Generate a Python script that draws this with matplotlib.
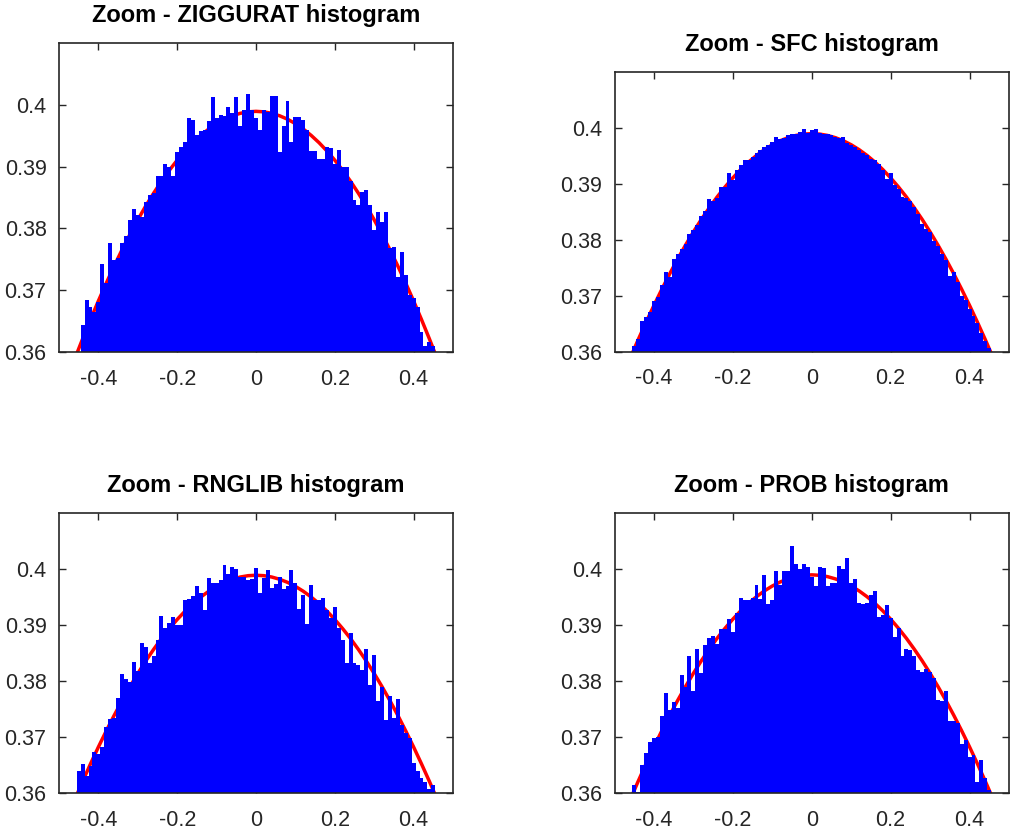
import numpy as np
import matplotlib
matplotlib.use("Agg")
import matplotlib.pyplot as plt

plt.rcParams['font.family'] = ['Liberation Sans', 'DejaVu Sans']
plt.rcParams['axes.unicode_minus'] = False

# bin centres (x = k/100, k = -45..45)
bin_centers = np.arange(-45, 46) / 100.0

ziggurat = [0.3598, 0.3644, 0.3684, 0.3673, 0.3665, 0.3681, 0.3742, 0.3711, 0.3776, 0.3749,
            0.3752, 0.3776, 0.3788, 0.3814, 0.3832, 0.3822, 0.3819, 0.3843, 0.3854, 0.3857,
            0.3884, 0.3884, 0.3904, 0.3900, 0.3884, 0.3924, 0.3932, 0.3939, 0.3978, 0.3975,
            0.3951, 0.3957, 0.3959, 0.3973, 0.4012, 0.3979, 0.3984, 0.3982, 0.3997, 0.3986,
            0.4012, 0.3965, 0.3992, 0.4017, 0.3992, 0.3978, 0.3960, 0.3992, 0.3989, 0.4014,
            0.4014, 0.3924, 0.3965, 0.4006, 0.3940, 0.3980, 0.3980, 0.3975, 0.3959, 0.3926,
            0.3926, 0.3913, 0.3913, 0.3932, 0.3930, 0.3905, 0.3927, 0.3900, 0.3899, 0.3876,
            0.3846, 0.3838, 0.3859, 0.3862, 0.3838, 0.3797, 0.3827, 0.3811, 0.3827, 0.3768,
            0.3770, 0.3722, 0.3762, 0.3725, 0.3692, 0.3687, 0.3673, 0.3633, 0.3610, 0.3616,
            0.3610]

sfc = [0.3610, 0.3622, 0.3655, 0.3662, 0.3671, 0.3690, 0.3698, 0.3720, 0.3743, 0.3734,
       0.3765, 0.3775, 0.3784, 0.3792, 0.3811, 0.3817, 0.3827, 0.3843, 0.3852, 0.3873,
       0.3870, 0.3875, 0.3895, 0.3895, 0.3920, 0.3907, 0.3924, 0.3933, 0.3942, 0.3943,
       0.3948, 0.3954, 0.3961, 0.3966, 0.3969, 0.3975, 0.3983, 0.3979, 0.3982, 0.3987,
       0.3989, 0.3989, 0.3992, 0.3997, 0.3991, 0.3996, 0.3997, 0.3991, 0.3989, 0.3989,
       0.3987, 0.3984, 0.3981, 0.3983, 0.3972, 0.3970, 0.3965, 0.3961, 0.3955, 0.3951,
       0.3945, 0.3942, 0.3935, 0.3924, 0.3909, 0.3919, 0.3897, 0.3891, 0.3877, 0.3875,
       0.3870, 0.3858, 0.3846, 0.3828, 0.3819, 0.3813, 0.3798, 0.3789, 0.3774, 0.3763,
       0.3735, 0.3743, 0.3725, 0.3699, 0.3693, 0.3676, 0.3664, 0.3652, 0.3634, 0.3619,
       0.3607]

rnglib = [0.3640, 0.3652, 0.3631, 0.3648, 0.3674, 0.3670, 0.3682, 0.3719, 0.3733, 0.3734,
          0.3770, 0.3813, 0.3804, 0.3798, 0.3835, 0.3819, 0.3868, 0.3862, 0.3832, 0.3846,
          0.3874, 0.3917, 0.3896, 0.3904, 0.3915, 0.3901, 0.3901, 0.3945, 0.3947, 0.3953,
          0.3970, 0.3957, 0.3927, 0.3985, 0.3975, 0.3975, 0.3981, 0.4007, 0.3992, 0.4005,
          0.4001, 0.3987, 0.3987, 0.3981, 0.3983, 0.4003, 0.3958, 0.3984, 0.3999, 0.3966,
          0.3973, 0.3987, 0.3964, 0.3970, 0.3999, 0.3975, 0.3929, 0.3954, 0.3902, 0.3972,
          0.3945, 0.3945, 0.3948, 0.3927, 0.3913, 0.3932, 0.3895, 0.3874, 0.3832, 0.3886,
          0.3832, 0.3829, 0.3820, 0.3857, 0.3793, 0.3847, 0.3764, 0.3790, 0.3731, 0.3774,
          0.3734, 0.3768, 0.3722, 0.3707, 0.3698, 0.3654, 0.3639, 0.3627, 0.3621, 0.3607,
          0.3615]

prob = [0.3615, 0.3603, 0.3651, 0.3671, 0.3692, 0.3698, 0.3701, 0.3737, 0.3779, 0.3749,
        0.3762, 0.3752, 0.3810, 0.3790, 0.3845, 0.3783, 0.3857, 0.3814, 0.3864, 0.3877,
        0.3881, 0.3867, 0.3892, 0.3892, 0.3910, 0.3887, 0.3921, 0.3948, 0.3945, 0.3945,
        0.3948, 0.3972, 0.3946, 0.3990, 0.3938, 0.3945, 0.3996, 0.3972, 0.3996, 0.3997,
        0.4040, 0.4009, 0.4000, 0.4009, 0.4003, 0.3985, 0.3970, 0.4003, 0.4002, 0.3970,
        0.3975, 0.3975, 0.4005, 0.3999, 0.4020, 0.3975, 0.3982, 0.3939, 0.3938, 0.3940,
        0.3954, 0.3961, 0.3915, 0.3917, 0.3935, 0.3913, 0.3879, 0.3895, 0.3845, 0.3857,
        0.3856, 0.3844, 0.3819, 0.3817, 0.3821, 0.3816, 0.3805, 0.3767, 0.3764, 0.3783,
        0.3728, 0.3728, 0.3725, 0.3688, 0.3695, 0.3664, 0.3668, 0.3621, 0.3660, 0.3627,
        0.3606]

# red reference curve, read at x = -0.48 .. 0.48 step 0.02
curve_x = np.arange(-24, 25) / 50.0
curve_half = [0.39894, 0.39886, 0.39862, 0.39822, 0.39767, 0.39695, 0.39608, 0.39505,
              0.39387, 0.39253, 0.39104, 0.38940, 0.38762, 0.38568, 0.38361, 0.38139,
              0.37903, 0.37654, 0.37391, 0.37115, 0.36827, 0.36526, 0.36214, 0.35889,
              0.35553]
curve_y = curve_half[:0:-1] + curve_half

titles = ["Zoom - ZIGGURAT histogram", "Zoom - SFC histogram",
          "Zoom - RNGLIB histogram", "Zoom - PROB histogram"]
series = [ziggurat, sfc, rnglib, prob]

xticks = [-0.4, -0.2, 0, 0.2, 0.4]
xticklabels = ["-0.4", "-0.2", "0", "0.2", "0.4"]
yticks = [0.36, 0.37, 0.38, 0.39, 0.40]
yticklabels = ["0.36", "0.37", "0.38", "0.39", "0.4"]

W, H = 1013, 835
fig = plt.figure(figsize=(W / 100, H / 100), dpi=100)

# axes boxes in pixels: left, top, right, bottom
boxes = [(59, 43, 453, 352), (614.5, 71.7, 1009, 351.7),
         (59, 513.3, 453, 793.3), (614.5, 512.8, 1009, 793.3)]

for (l, t, r, b), ttl, vals in zip(boxes, titles, series):
    ax = fig.add_axes([l / W, 1 - b / H, (r - l) / W, (b - t) / H])
    ax.plot(curve_x, curve_y, color='#ff0000', lw=2.5, zorder=1)
    ax.bar(bin_centers, vals, width=0.01, color='#0000ff', linewidth=0, zorder=2)
    ax.set_xlim(-0.5, 0.5)
    ax.set_ylim(0.36, 0.41)
    ax.set_xticks(xticks)
    ax.set_xticklabels(xticklabels)
    ax.set_yticks(yticks)
    ax.set_yticklabels(yticklabels)
    ax.tick_params(direction='in', top=True, right=True, length=5, width=1,
                   labelsize=15.5, colors='#262626')
    ax.tick_params(axis='x', pad=12)
    ax.tick_params(axis='y', pad=9)
    for s in ax.spines.values():
        s.set_linewidth(1.2)
        s.set_color('#262626')
        s.set_zorder(5)
    ax.set_title(ttl, fontsize=17, fontweight='bold', pad=15, color='black')

fig.savefig("out.png", dpi=100)
